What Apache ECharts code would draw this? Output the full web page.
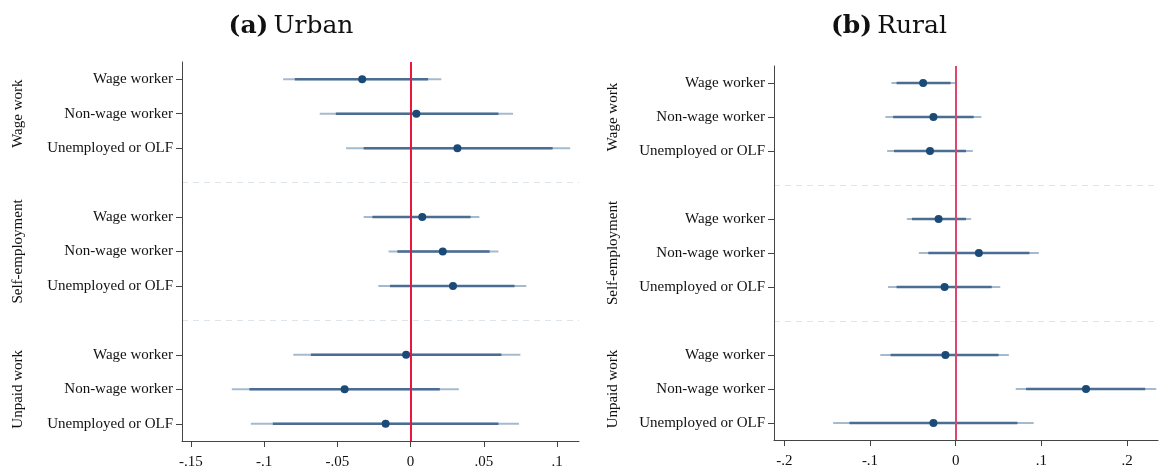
<!DOCTYPE html>
<html>
<head>
<meta charset="utf-8">
<script src="https://cdn.jsdelivr.net/npm/echarts@6/dist/echarts.min.js"></script>
<style>
  html, body { margin: 0; padding: 0; background: #fff; }
  #chart { width: 1159px; height: 468px; }
</style>
</head>
<body>
<div id="chart"></div>
<script>
var rowLabels = ['Wage worker', 'Non-wage worker', 'Unemployed or OLF'];
var groupLabels = ['Wage work', 'Self-employment', 'Unpaid work'];

// urban estimates, 90% and 95% intervals (9 rows, top to bottom)
var urbanEst  = [-0.033, 0.004, 0.032, 0.008, 0.022, 0.029, -0.003, -0.045, -0.017];
var urbanLo90 = [-0.079, -0.051, -0.032, -0.026, -0.009, -0.014, -0.068, -0.110, -0.094];
var urbanHi90 = [0.012, 0.060, 0.097, 0.041, 0.054, 0.071, 0.062, 0.020, 0.060];
var urbanLo95 = [-0.087, -0.062, -0.044, -0.032, -0.015, -0.022, -0.080, -0.122, -0.109];
var urbanHi95 = [0.021, 0.070, 0.109, 0.047, 0.060, 0.079, 0.075, 0.033, 0.074];

// rural
var ruralEst  = [-0.038, -0.026, -0.030, -0.020, 0.027, -0.013, -0.012, 0.152, -0.026];
var ruralLo90 = [-0.069, -0.073, -0.072, -0.051, -0.032, -0.069, -0.076, 0.082, -0.124];
var ruralHi90 = [-0.006, 0.021, 0.012, 0.012, 0.086, 0.042, 0.050, 0.221, 0.072];
var ruralLo95 = [-0.075, -0.082, -0.080, -0.057, -0.043, -0.079, -0.088, 0.070, -0.143];
var ruralHi95 = [0.000, 0.030, 0.020, 0.018, 0.097, 0.052, 0.062, 0.234, 0.091];

var urbanTicks = [-0.15, -0.1, -0.05, 0, 0.05, 0.1];
var ruralTicks = [-0.2, -0.1, 0, 0.1, 0.2];

// 11 slots: 3 rows per group plus an empty slot between groups
var slotLabels = [];
for (var g = 0; g < 3; g++) {
    for (var r = 0; r < 3; r++) slotLabels.push(rowLabels[r]);
    if (g < 2) slotLabels.push('');
}
function slotOf(i) { return i + Math.floor(i / 3); }

var serif = '"Liberation Serif", "DejaVu Serif", serif';
var axisColor = '#444';

function fmt(v) {
    if (Math.abs(v) < 1e-9) return '0';
    var s = String(+v.toFixed(2));
    return s.replace('0.', '.');
}

function ciData(lo95, hi95, lo90, hi90) {
    return lo95.map(function (v, i) {
        return [slotOf(i), lo95[i], hi95[i], lo90[i], hi90[i]];
    });
}
function ptData(est) {
    return est.map(function (v, i) { return [v, slotOf(i)]; });
}

function renderCI(params, api) {
    var y = api.value(0);
    var a = api.coord([api.value(1), y]);
    var b = api.coord([api.value(2), y]);
    var c = api.coord([api.value(3), y]);
    var d = api.coord([api.value(4), y]);
    return {
        type: 'group',
        children: [
            { type: 'line', shape: { x1: a[0], y1: a[1], x2: b[0], y2: b[1] },
              style: { stroke: '#a6bacd', lineWidth: 2 } },
            { type: 'line', shape: { x1: c[0], y1: c[1], x2: d[0], y2: d[1] },
              style: { stroke: '#4a6d91', lineWidth: 2.5 } }
        ]
    };
}

function xAxisFor(idx, min, max, ticks) {
    return {
        type: 'value', gridIndex: idx, min: min, max: max, z: 10,
        splitLine: { show: false },
        axisLine: { show: true, onZero: false, lineStyle: { color: axisColor, width: 1 } },
        axisTick: { show: true, length: 6, customValues: ticks, lineStyle: { color: axisColor } },
        axisLabel: { customValues: ticks, formatter: fmt, margin: 14,
                     fontFamily: serif, fontSize: 15, color: '#111' }
    };
}

function yAxisFor(idx) {
    return {
        type: 'category', gridIndex: idx, data: slotLabels, inverse: true, z: 10,
        axisLine: { show: true, onZero: false, lineStyle: { color: axisColor, width: 1 } },
        axisTick: { show: true, length: 6, alignWithLabel: true,
                    interval: function (i, v) { return v !== ''; },
                    lineStyle: { color: axisColor } },
        axisLabel: { interval: 0, margin: 9, fontFamily: serif, fontSize: 15, color: '#111' },
        splitLine: { show: false }
    };
}

function seriesFor(idx, est, lo95, hi95, lo90, hi90, zeroColor) {
    return [{
        type: 'custom', xAxisIndex: idx, yAxisIndex: idx,
        data: ciData(lo95, hi95, lo90, hi90),
        encode: { x: [1, 2, 3, 4], y: 0 },
        renderItem: renderCI, z: 2, silent: true,
        markLine: {
            silent: true, symbol: 'none', label: { show: false },
            data: [
                { yAxis: 3, lineStyle: { color: '#dde5ea', type: [6, 5], width: 1 } },
                { yAxis: 7, lineStyle: { color: '#dde5ea', type: [6, 5], width: 1 } }
            ]
        }
    }, {
        type: 'scatter', xAxisIndex: idx, yAxisIndex: idx,
        data: ptData(est), symbolSize: 8, z: 4, silent: true,
        itemStyle: { color: '#1b4a78', opacity: 1 },
        markLine: {
            silent: true, symbol: 'none', label: { show: false },
            lineStyle: { color: zeroColor, width: 2, type: 'solid' },
            data: [{ xAxis: 0 }]
        }
    }];
}

function titleFor(tag, name, x) {
    return {
        text: '{b|' + tag + '} {n|' + name + '}', left: x, top: 9, textAlign: 'center',
        textStyle: { fontWeight: 'normal', rich: {
            b: { fontFamily: '"DejaVu Serif", serif', fontSize: 25, fontWeight: 'bold', color: '#111' },
            n: { fontFamily: '"DejaVu Serif", serif', fontSize: 25, fontWeight: 'normal', color: '#111' } } }
    };
}

var chart = echarts.init(document.getElementById('chart'));

var option = {
    animation: false,
    backgroundColor: '#fff',
    title: [titleFor('(a)', 'Urban', 286), titleFor('(b)', 'Rural', 884)],
    grid: [
        { left: 182, top: 62, width: 397, height: 379, outerBoundsMode: 'none', containLabel: false },
        { left: 774, top: 66, width: 384, height: 374, outerBoundsMode: 'none', containLabel: false }
    ],
    xAxis: [
        xAxisFor(0, -0.156, 0.115, urbanTicks),
        xAxisFor(1, -0.212, 0.236, ruralTicks)
    ],
    yAxis: [yAxisFor(0), yAxisFor(1)],
    series: seriesFor(0, urbanEst, urbanLo95, urbanHi95, urbanLo90, urbanHi90, '#e8173f')
        .concat(seriesFor(1, ruralEst, ruralLo95, ruralHi95, ruralLo90, ruralHi90, '#e0456f'))
};

chart.setOption(option);

// rotated group labels, centred on the middle row of each group
var groupX = [18, 613];
var texts = [];
[0, 1].forEach(function (gi) {
    groupLabels.forEach(function (name, k) {
        var y = chart.convertToPixel({ yAxisIndex: gi }, slotOf(k * 3 + 1));
        texts.push({
            type: 'text', x: groupX[gi], y: y, rotation: Math.PI / 2,
            style: { text: name, fontFamily: serif, fontSize: 15, fill: '#111',
                     align: 'center', verticalAlign: 'middle' }
        });
    });
});
chart.setOption({ graphic: texts });
</script>
</body>
</html>
